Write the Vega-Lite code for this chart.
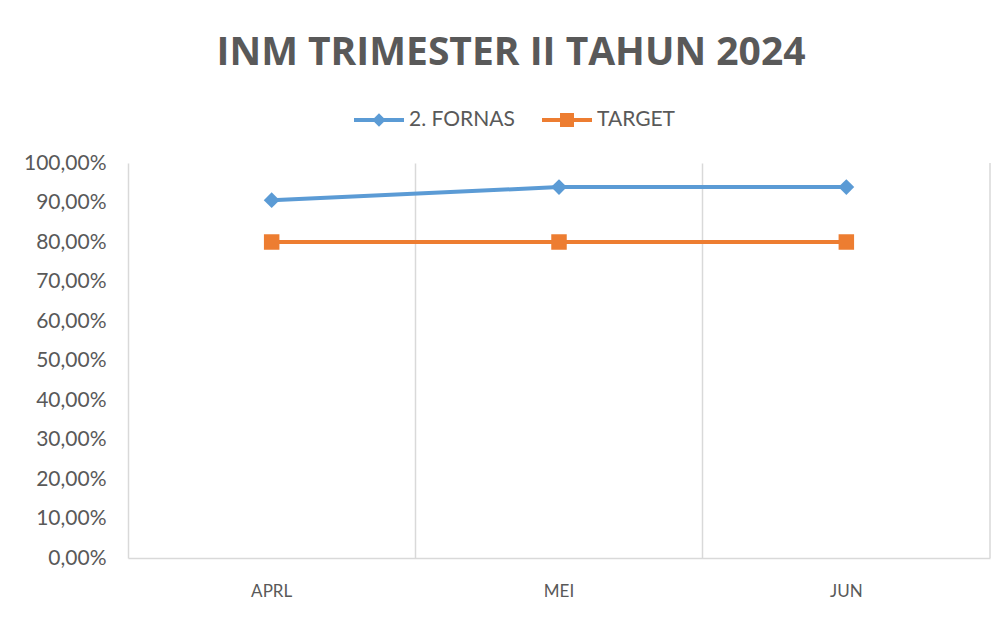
{
  "$schema": "https://vega.github.io/schema/vega-lite/v6.json",
  "width": 862,
  "height": 395,
  "autosize": {"type": "none"},
  "padding": {"left": 128, "top": 163, "right": 17, "bottom": 61},
  "background": "white",
  "title": {
    "text": "INM TRIMESTER II TAHUN 2024",
    "font": "Open Sans",
    "fontSize": 39,
    "fontWeight": "bold",
    "color": "#595959",
    "anchor": "middle",
    "frame": "group",
    "dx": -48,
    "offset": 22
  },
  "config": {
    "locale": {"number": {"decimal": ",", "thousands": ".", "grouping": [3], "currency": ["", ""]}},
    "view": {"stroke": null},
    "font": "Lato",
    "axisY": {"labelOverlap": false}
  },
  "data": {
    "values": [
      {"month": "APRL", "series": "2. FORNAS", "value": 0.906},
      {"month": "MEI", "series": "2. FORNAS", "value": 0.939},
      {"month": "JUN", "series": "2. FORNAS", "value": 0.939},
      {"month": "APRL", "series": "TARGET", "value": 0.8},
      {"month": "MEI", "series": "TARGET", "value": 0.8},
      {"month": "JUN", "series": "TARGET", "value": 0.8}
    ]
  },
  "encoding": {
    "x": {
      "field": "month", "type": "nominal", "sort": ["APRL", "MEI", "JUN"],
      "scale": {"paddingInner": 0, "paddingOuter": 0},
      "axis": {
        "title": null, "labelAngle": 0, "ticks": false, "grid": true, "bandPosition": 0,
        "gridColor": "#d9d9d9", "gridWidth": 1.5, "domainColor": "#d9d9d9", "domainWidth": 1.5,
        "labelFont": "Lato", "labelFontSize": 17, "labelColor": "#595959", "labelPadding": 25
      }
    },
    "y": {
      "field": "value", "type": "quantitative",
      "scale": {"domain": [0, 1]},
      "axis": {
        "title": null, "format": ".2%", "values": [0, 0.1, 0.2, 0.3, 0.4, 0.5, 0.6, 0.7, 0.8, 0.9, 1],
        "labelOverlap": false, "domain": false, "ticks": false, "grid": false,
        "labelFont": "Lato", "labelFontSize": 21, "labelColor": "#595959", "labelPadding": 22
      }
    },
    "color": {
      "field": "series", "type": "nominal",
      "scale": {"domain": ["2. FORNAS", "TARGET"], "range": ["#5B9BD5", "#ED7D31"]},
      "legend": {
        "title": null, "orient": "none", "direction": "horizontal",
        "legendX": 226, "legendY": -68, "padding": 0,
        "symbolSize": 2500, "labelOffset": 5, "columnPadding": 27,
        "labelFont": "Lato", "labelFontSize": 21, "labelColor": "#595959",
        "encode": {
          "symbols": {
            "update": {
              "shape": {"signal": "datum.value == 'TARGET' ? 'M-1,-0.08H1V0.08H-1Z M-0.28,-0.28H0.28V0.28H-0.28Z' : 'M-1,-0.08H1V0.08H-1Z M0,-0.27L0.27,0L0,0.27L-0.27,0Z'"},
              "size": {"value": 2500},
              "fill": {"signal": "datum.value == 'TARGET' ? '#ED7D31' : '#5B9BD5'"},
              "fillOpacity": {"value": 1},
              "opacity": {"value": 1},
              "strokeWidth": {"value": 0}
            }
          }
        }
      }
    }
  },
  "layer": [
    {
      "transform": [{"filter": "datum.month == 'JUN' && datum.series == 'TARGET'"}],
      "mark": {"type": "rule", "color": "#d9d9d9", "strokeWidth": 1.5},
      "encoding": {
        "x": {"field": "month", "type": "nominal", "bandPosition": 1, "sort": ["APRL", "MEI", "JUN"]},
        "y": {"datum": 0},
        "y2": {"datum": 1},
        "color": {"value": "#d9d9d9"}
      }
    },
    {
      "mark": {"type": "line", "strokeWidth": 4}
    },
    {
      "transform": [{"filter": "datum.series == '2. FORNAS'"}],
      "mark": {"type": "point", "filled": true, "opacity": 1, "shape": "diamond", "size": 250}
    },
    {
      "transform": [{"filter": "datum.series == 'TARGET'"}],
      "mark": {"type": "point", "filled": true, "opacity": 1, "shape": "square", "size": 240}
    }
  ]
}
